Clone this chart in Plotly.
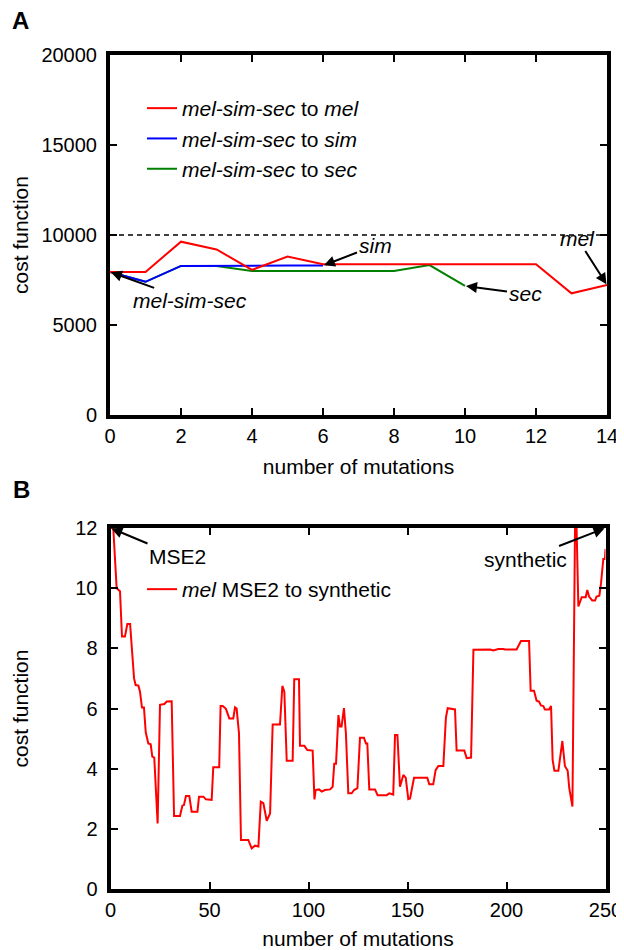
import plotly.graph_objects as go

# ---------------- Panel A data ----------------
mut_a = list(range(15))
cost_to_mel = [7950, 7950, 9630, 9200, 8060, 8800, 8370, 8370, 8370, 8370, 8370, 8370, 8370, 6760, 7220]
cost_to_sim = [7950, 7400, 8280, 8300, 8300, 8300, 8300]
cost_to_sec = [7950, 7400, 8280, 8280, 8000, 8000, 8000, 8000, 8000, 8330, 7170]
threshold_a = 10000
a_xticks = [0, 2, 4, 6, 8, 10, 12, 14]
a_yticks = [0, 5000, 10000, 15000, 20000]

# ---------------- Panel B data ----------------
mut_b = [0, 1.4, 3.1, 4.8, 5.8, 7.3, 8.5, 9.9, 11.9, 12.7, 14.1, 14.9, 15.9, 16.9, 17.8, 19.1,
         20.3, 21.1, 22.1, 23.8, 25.0, 27.2, 28.4, 30.9, 32.1, 35.1, 36.3, 37.1, 38.1, 39.8,
         41.0, 43.9, 44.7, 46.9, 48.2, 51.1, 51.9, 54.9, 55.6, 56.7, 58.3, 60.0, 62.0, 62.9,
         63.7, 64.9, 65.9, 69.6, 71.3, 73.0, 74.7, 75.9, 77.2, 78.9, 80.6, 81.9, 85.6, 86.8,
         87.8, 89.0, 92.0, 92.8, 95.2, 95.7, 97.9, 99.4, 102.1, 103.0, 103.6, 105.3, 106.7,
         108.3, 110.9, 112.2, 113.0, 113.9, 115.1, 115.9, 116.7, 117.9, 118.9, 120.1, 121.8,
         123.0, 124.7, 126.0, 128.0, 129.0, 129.7, 130.7, 133.6, 134.9, 139.5, 140.8, 142.8,
         143.7, 144.9, 146.2, 147.9, 149.1, 150.4, 151.3, 153.3, 160.0, 161.0, 163.0, 164.2,
         165.6, 168.1, 169.4, 170.3, 174.0, 174.8, 178.7, 179.9, 182.1, 183.3, 191.7, 193.3,
         195.9, 198.4, 199.2, 205.1, 207.3, 211.4, 212.2, 213.9, 215.2, 216.4, 217.4, 218.6,
         219.4, 221.5, 222.5, 223.3, 224.2, 226.2, 228.2, 229.5, 230.9, 231.7, 233.3, 234.6,
         235.4, 236.3, 238.0, 240.0, 240.8, 241.7, 243.3, 244.7, 245.5, 246.9, 247.7, 248.9,
         249.7, 250]
cost_b = [12.0, 12.0, 10.0, 9.9, 8.39, 8.39, 8.81, 8.81, 7.0, 6.78, 6.76, 6.56, 6.03, 6.03, 5.21, 4.84,
          4.81, 4.40, 4.37, 2.18, 6.12, 6.15, 6.23, 6.24, 2.43, 2.43, 2.77, 2.79, 3.09, 3.09,
          2.57, 2.57, 3.07, 3.07, 2.98, 2.96, 4.05, 4.05, 6.08, 6.08, 5.99, 5.67, 5.67, 6.04,
          6.0, 5.17, 1.63, 1.63, 1.35, 1.44, 1.41, 2.90, 2.85, 2.27, 2.51, 5.47, 5.47, 6.75,
          6.56, 4.26, 4.26, 6.97, 6.97, 4.76, 4.76, 4.62, 4.60, 2.98, 3.29, 3.31, 3.24,
          3.29, 3.31, 3.40, 4.16, 4.16, 5.78, 5.40, 5.40, 6.01, 5.17, 3.18, 3.18,
          3.29, 3.35, 5.03, 5.03, 4.84, 4.84, 3.31, 3.31, 3.12, 3.12, 3.18, 3.14,
          5.12, 5.12, 3.40, 3.79, 3.70, 2.99, 3.01, 3.70, 3.70, 3.48, 3.48, 3.95,
          4.09, 4.09, 5.70, 6.01, 5.97, 4.60, 4.60, 4.35, 4.37, 7.95, 7.96, 7.93,
          7.98, 7.98, 7.96, 7.96, 8.24, 8.24, 6.59, 6.59, 6.26, 6.23, 6.10, 6.08,
          5.97, 5.97, 6.08, 4.29, 3.93, 3.93, 4.92, 4.09, 3.93, 3.35, 2.74, 12.0,
          12.0, 9.39, 9.70, 9.70, 9.94, 9.72, 9.59, 9.59, 9.72, 9.75, 10.14, 10.97,
          10.97, 11.3]
b_xticks = [0, 50, 100, 150, 200, 250]
b_yticks = [0, 2, 4, 6, 8, 10, 12]

FONT = "Liberation Sans, Arial, sans-serif"
OFF = 8  # page body margin in the browser
W, H = 624 - OFF, 950 - OFF


def px(X):
    return (X - OFF) / W


def py(Y):
    return 1 - (Y - OFF) / H


fig = go.Figure()

# Panel A traces (draw green, blue, red so red sits on top)
fig.add_trace(go.Scatter(x=mut_a[:len(cost_to_sec)], y=cost_to_sec, mode="lines",
                         line=dict(color="#008000", width=2), legendrank=3,
                         name="<i>mel-sim-sec</i> to <i>sec</i>", xaxis="x", yaxis="y", legend="legend"))
fig.add_trace(go.Scatter(x=mut_a[:len(cost_to_sim)], y=cost_to_sim, mode="lines",
                         line=dict(color="#0000ff", width=2), legendrank=2,
                         name="<i>mel-sim-sec</i> to <i>sim</i>", xaxis="x", yaxis="y", legend="legend"))
fig.add_trace(go.Scatter(x=mut_a, y=cost_to_mel, mode="lines",
                         line=dict(color="#ff0000", width=2), legendrank=1,
                         name="<i>mel-sim-sec</i> to <i>mel</i>", xaxis="x", yaxis="y", legend="legend"))

# Panel B trace
fig.add_trace(go.Scatter(x=mut_b, y=cost_b, mode="lines",
                         line=dict(color="#ff0000", width=2),
                         name="<i>mel</i> MSE2 to synthetic", xaxis="x2", yaxis="y2", legend="legend2"))

# threshold line in A
fig.add_shape(type="line", xref="x domain", yref="y", x0=0, x1=1, y0=threshold_a, y1=threshold_a,
              line=dict(color="black", width=1.5, dash="5px,4px"), layer="below")

xdomA = [px(110), px(607)]
xdomB = [px(110.5), px(605.5)]
ydomA = [py(415), py(55)]
ydomB = [py(889), py(528)]

axis_common = dict(showline=True, linewidth=4, linecolor="black", mirror="ticks",
                   ticks="inside", ticklen=7, tickwidth=1.5, tickcolor="black",
                   showgrid=False, zeroline=False, automargin=False, tickformat="d",
                   tickfont=dict(family=FONT, size=20, color="black"))

fig.update_layout(
    template="none",
    width=W, height=H, autosize=False,
    margin=dict(l=0, r=0, t=0, b=0, pad=0),
    paper_bgcolor="white", plot_bgcolor="white",
    font=dict(family=FONT, size=21, color="black"),
    xaxis=dict(domain=xdomA, range=[0, 14], tickvals=a_xticks, anchor="y",
               title=dict(text="number of mutations", font=dict(size=21), standoff=14), **axis_common),
    yaxis=dict(domain=ydomA, range=[0, 20000], tickvals=a_yticks, anchor="x", ticklabelstandoff=5,
               title=dict(text="cost function", font=dict(size=21), standoff=8), **axis_common),
    xaxis2=dict(domain=xdomB, range=[0, 250], tickvals=b_xticks, anchor="y2",
                title=dict(text="number of mutations", font=dict(size=21), standoff=14), **axis_common),
    yaxis2=dict(domain=ydomB, range=[0, 12], tickvals=b_yticks, anchor="x2", ticklabelstandoff=5,
                title=dict(text="cost function", font=dict(size=21), standoff=42), **axis_common),
    legend=dict(x=px(142), y=py(88), xanchor="left", yanchor="top",
                bgcolor="rgba(0,0,0,0)", font=dict(family=FONT, size=21), tracegroupgap=0),
    legend2=dict(x=px(142), y=py(569), xanchor="left", yanchor="top",
                 bgcolor="rgba(0,0,0,0)", font=dict(family=FONT, size=21)),
    showlegend=True,
)

arrow = dict(showarrow=True, arrowhead=2, arrowsize=1.1, arrowwidth=2, arrowcolor="black",
             font=dict(family=FONT, size=21, color="black"), standoff=1)

annots = [
    dict(x=0, y=cost_to_mel[0], xref="x", yref="y", text="<i>mel-sim-sec</i>", ax=80, ay=29, **arrow),
    dict(x=6, y=cost_to_sim[6], xref="x", yref="y", text="<i>sim</i>", ax=52, ay=-20, **arrow),
    dict(x=14, y=cost_to_mel[14], xref="x", yref="y", text="<i>mel</i>", ax=-30, ay=-47, **arrow),
    dict(x=10, y=cost_to_sec[10], xref="x", yref="y", text="<i>sec</i>", ax=60, ay=8, **arrow),
    dict(x=0, y=12, xref="x2", yref="y2", text="MSE2", ax=67, ay=28, **arrow),
    dict(x=250, y=12, xref="x2", yref="y2", text="synthetic", ax=-80, ay=31, **arrow),
    dict(x=px(11), y=1, xref="paper", yref="paper", text="<b>A</b>", showarrow=False,
         xanchor="left", yanchor="top", height=22, valign="middle", borderpad=0,
         font=dict(family=FONT, size=24, color="black")),
    dict(x=px(11), y=py(474), xref="paper", yref="paper", text="<b>B</b>", showarrow=False,
         xanchor="left", yanchor="top", font=dict(family=FONT, size=24, color="black")),
]
fig.update_layout(annotations=annots)

fig.write_html("out.html")
